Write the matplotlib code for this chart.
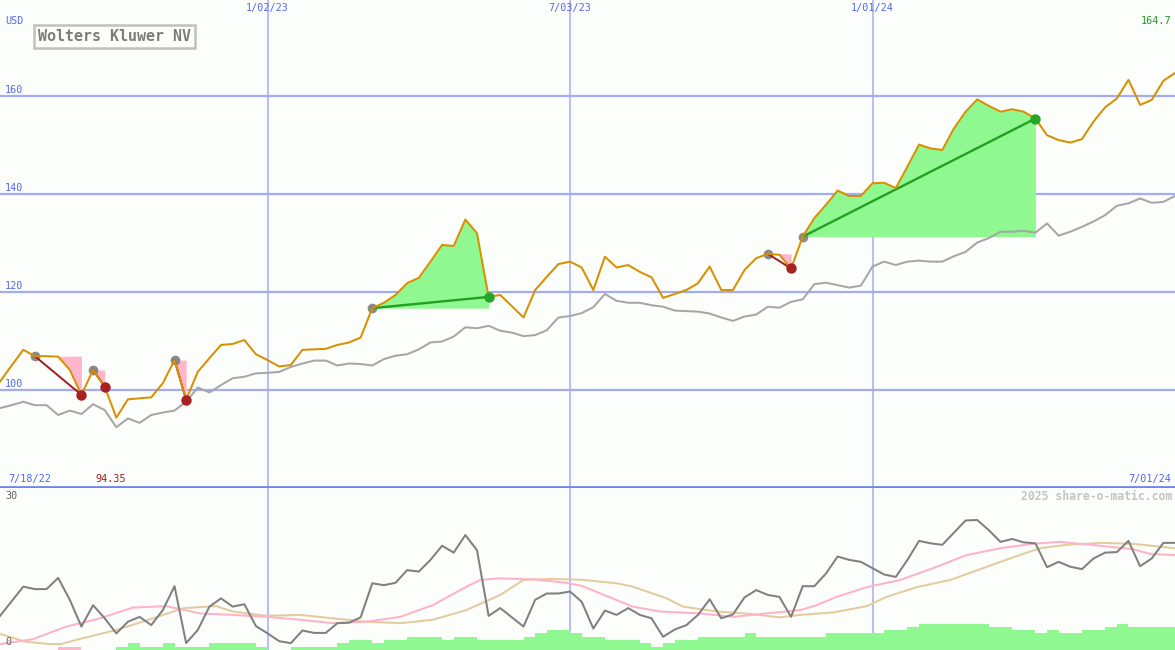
import matplotlib
matplotlib.use('Agg')
import matplotlib.pyplot as plt
import numpy as np
from matplotlib.transforms import blended_transform_factory as btf

# ---------------- data (weekly, index 0 = left edge) ----------------
price = [101.7, 105.0, 108.2, 106.9, 106.9, 106.8, 104.1, 99.0, 104.1, 100.7,
         94.35, 98.1, 98.3, 98.5, 101.4, 106.1, 98.0, 103.7, 106.5, 109.2,
         109.4, 110.2, 107.3, 106.1, 104.8, 105.1, 108.2, 108.3, 108.4, 109.2,
         109.7, 110.7, 116.7, 117.8, 119.4, 121.8, 122.9, 126.2, 129.6, 129.4,
         134.8, 132.0, 119.0, 119.4, 117.1, 114.8, 120.4, 123.1, 125.7, 126.2,
         125.0, 120.4, 127.2, 125.0, 125.5, 124.1, 123.0, 118.8, 119.6, 120.4,
         121.8, 125.2, 120.4, 120.4, 124.5, 126.9, 127.8, 127.6, 124.8, 131.3,
         135.1, 137.8, 140.7, 139.6, 139.6, 142.2, 142.3, 141.2, 145.6, 150.1,
         149.3, 149.0, 153.4, 156.8, 159.3, 158.0, 156.8, 157.3, 156.8, 155.4,
         152.0, 151.0, 150.5, 151.2, 154.8, 157.7, 159.5, 163.3, 158.2, 159.2,
         163.1, 164.7]

bench = [96.3, 96.9, 97.6, 96.9, 96.9, 94.9, 95.8, 95.1, 97.1, 95.9,
         92.4, 94.2, 93.3, 94.9, 95.4, 95.8, 97.6, 100.5, 99.5, 101.0,
         102.4, 102.7, 103.4, 103.5, 103.7, 104.7, 105.4, 106.0, 106.0, 105.0,
         105.4, 105.3, 105.0, 106.3, 107.0, 107.3, 108.3, 109.7, 109.9, 110.9,
         112.8, 112.6, 113.1, 112.1, 111.7, 111.0, 111.2, 112.2, 114.8, 115.1,
         115.7, 116.9, 119.6, 118.2, 117.8, 117.8, 117.3, 117.0, 116.2, 116.1,
         116.0, 115.6, 114.8, 114.1, 115.0, 115.4, 117.0, 116.8, 118.0, 118.5,
         121.6, 121.9, 121.4, 120.9, 121.3, 125.2, 126.2, 125.5, 126.2, 126.4,
         126.2, 126.2, 127.3, 128.2, 130.1, 131.0, 132.3, 132.3, 132.5, 132.1,
         134.0, 131.5, 132.3, 133.3, 134.4, 135.7, 137.6, 138.1, 139.1, 138.2,
         138.4, 139.6]

osc = [6.6, 9.6, 12.6, 12.1, 12.1, 14.4, 9.9, 4.4, 8.8, 6.1,
       3.0, 5.4, 6.4, 4.7, 7.8, 12.7, 1.0, 3.7, 8.5, 10.2,
       8.5, 9.0, 4.5, 3.0, 1.4, 1.0, 3.6, 3.1, 3.1, 5.1,
       5.2, 6.3, 13.3, 12.9, 13.4, 16.0, 15.7, 18.1, 21.0, 19.6,
       23.2, 20.1, 6.6, 8.2, 6.3, 4.4, 9.9, 11.2, 11.2, 11.6,
       9.5, 4.0, 7.7, 6.8, 8.2, 6.8, 6.1, 2.3, 3.8, 4.7,
       6.8, 10.0, 6.1, 6.9, 10.4, 11.9, 10.9, 10.5, 6.4, 12.7,
       12.7, 15.3, 18.8, 18.1, 17.7, 16.4, 15.1, 14.6, 18.1, 22.0,
       21.5, 21.2, 23.7, 26.2, 26.3, 24.2, 21.8, 22.4, 21.7, 21.5,
       16.6, 17.7, 16.7, 16.2, 18.4, 19.6, 19.7, 22.0, 16.8, 18.4,
       21.6, 21.6]

pink_wk = [0, 2.8, 5.7, 8.6, 11.4, 14.3, 17.2, 20.0, 22.9, 25.8, 28.6, 31.5,
           34.4, 37.2, 40.1, 41.3, 43.0, 45.8, 48.7, 50.1, 51.6, 54.4, 56.7,
           60.2, 63.0, 65.9, 68.8, 70.2, 71.9, 74.5, 77.4, 80.2, 83.1, 86.0,
           88.8, 91.1, 94.6, 97.4, 98.9, 101]
pink_v = [0.8, 1.8, 4.4, 6.1, 8.3, 8.6, 7.1, 6.8, 6.4, 5.8, 5.1, 5.4,
          6.4, 8.8, 12.6, 14.0, 14.3, 14.1, 13.4, 12.7, 11.2, 8.5, 7.5,
          7.1, 6.4, 7.1, 7.8, 8.8, 10.5, 12.5, 14.0, 16.4, 19.1, 20.5,
          21.4, 21.8, 21.0, 20.3, 19.3, 19.1]

tan_wk = [0, 2.15, 4.3, 5.2, 7.1, 10.0, 12.9, 15.8, 18.6, 20.0, 22.9, 25.8,
          28.6, 31.5, 34.4, 37.2, 40.1, 43.0, 45.0, 47.3, 50.1, 53.0, 54.4,
          57.3, 58.7, 61.6, 64.5, 67.0, 68.8, 71.6, 74.5, 76.2, 78.8, 81.7,
          84.5, 87.4, 89.4, 91.7, 94.6, 97.4, 101]
tan_v = [2.9, 1.3, 0.8, 0.8, 2.0, 3.7, 5.9, 8.2, 8.6, 7.5, 6.6, 6.8,
         6.1, 5.4, 5.1, 5.8, 7.8, 10.9, 14.0, 14.2, 14.0, 13.3, 12.6,
         10.2, 8.5, 7.5, 7.0, 6.3, 6.8, 7.3, 8.6, 10.5, 12.5, 14.0,
         16.4, 18.9, 20.5, 21.2, 21.6, 21.4, 20.5]

# bar levels per week (negative = pink)
bar_lvl = [0, 0, 0, 0, 0, -1, -1, 0, 0, 0,
           1, 2, 1, 1, 2, 1, 1, 1, 2, 2,
           2, 2, 1, 0, 0, 1, 1, 1, 1, 2,
           3, 3, 2, 3, 3, 4, 4, 4, 3, 4,
           4, 3, 3, 3, 3, 4, 5, 6, 6, 5,
           4, 4, 3, 3, 3, 2, 1, 2, 3, 3,
           4, 4, 4, 4, 5, 4, 4, 4, 4, 4,
           4, 5, 5, 5, 5, 5, 6, 6, 7, 8,
           8, 8, 8, 8, 8, 7, 7, 6, 6, 5,
           6, 5, 5, 6, 6, 7, 8, 7, 7, 7,
           7]
bar_unit = 0.68

trades = [(3, 7), (8, 9), (15, 16), (32, 42), (66, 68), (69, 89)]

vline_idx = [23, 49, 75]
vline_lbl = ['1/02/23', '7/03/23', '1/01/24']
price_ticks = [100, 120, 140, 160]
start_lbl, end_lbl = '7/18/22', '7/01/24'
title = 'Wolters Kluwer NV'

# ---------------- figure ----------------
W, H = 1175, 650
bg = '#fbfefb'
grid_c = '#a3acf2'
blue_txt = '#5566ee'
mono = 'DejaVu Sans Mono'
lw = 1.45

fig = plt.figure(figsize=(W / 100, H / 100), dpi=100)
fig.patch.set_facecolor(bg)
ax = fig.add_axes([0, 163 / H, 1, 487 / H])
ax2 = fig.add_axes([0, 0, 1, 162 / H])
for a in (ax, ax2):
    a.set_facecolor(bg)
    a.set_xlim(0, 101)
    for s in a.spines.values():
        s.set_visible(False)
    a.set_xticks([])
    a.set_yticks([])
    for v in vline_idx:
        a.axvline(v, color=grid_c, lw=1.1, zorder=0)
ax.set_ylim(80.2, 179.6)
ax2.set_ylim(-0.41, 32.87)
ax.spines['bottom'].set_visible(True)
ax.spines['bottom'].set_color('#7484ea')
ax.spines['bottom'].set_linewidth(2.0)

for v in price_ticks:
    ax.axhline(v, color=grid_c, lw=1.6, zorder=0)

x = np.arange(len(price))
p = np.array(price)

# trades
for e, s in trades:
    xs = x[e:s + 1]
    seg = p[e:s + 1]
    ep = p[e]
    win = p[s] > ep
    ax.fill_between(xs, seg, ep, color='#90f890' if win else '#ffb6cc',
                    lw=0, zorder=1)
    ax.plot([e, s], [p[e], p[s]], color='#22a022' if win else '#a01c1c',
            lw=1.7 if win else 1.4, zorder=3)
    ax.plot(e, p[e], 'o', ms=7, color='#8a8a8a', mec='none', zorder=2.5)
    ax.plot(s, p[s], 'o', ms=7.5, color='#26a626' if win else '#a82020',
            mec='none', zorder=5)

ax.plot(x, bench, color='#a6a6a6', lw=lw, zorder=2)
ax.plot(x, price, color='#d99000', lw=lw, zorder=4)

# lower panel
bx = np.arange(len(bar_lvl))
bh = np.abs(np.array(bar_lvl)) * bar_unit
bc = ['#90f890' if k >= 0 else '#ffb6cc' for k in bar_lvl]
ax2.bar(bx, bh, bottom=-0.41, width=1.0, align='edge', color=bc, lw=0, zorder=1)
ax2.plot(tan_wk, tan_v, color='#e4cb9f', lw=lw, zorder=2)
ax2.plot(pink_wk, pink_v, color='#ffb2c8', lw=lw, zorder=3)
ax2.plot(np.arange(len(osc)), osc, color='#808080', lw=lw, zorder=4)

# ---------------- texts ----------------
def px(xp, yp):
    return xp / W, 1 - yp / H

fs = 7.3
trx = btf(ax.transData, ax.transAxes)
for v, l in zip(vline_idx, vline_lbl):
    ax.text(v, 1 - 8 / 487, l, transform=trx, ha='center', va='center',
            color=blue_txt, fontsize=fs, family=mono)
try_ = btf(ax.transAxes, ax.transData)
for v in price_ticks:
    ax.text(5 / W, v + 6 / 4.9, str(v), transform=try_, ha='left', va='center',
            color=blue_txt, fontsize=fs, family=mono)

fig.text(*px(5, 21), 'USD', ha='left', va='center', color=blue_txt,
         fontsize=fs, family=mono)
fig.text(*px(1171, 21), f'{price[-1]:.1f}', ha='right', va='center',
         color='#229922', fontsize=fs, family=mono)
fig.text(*px(8, 479), start_lbl, ha='left', va='center', color=blue_txt,
         fontsize=fs, family=mono)
fig.text(*px(95, 479), f'{min(price):.2f}', ha='left', va='center',
         color='#a01c1c', fontsize=fs, family=mono)
fig.text(*px(1171, 479), end_lbl, ha='right', va='center', color=blue_txt,
         fontsize=fs, family=mono)
fig.text(*px(5, 496), '30', ha='left', va='center', color='#606060',
         fontsize=fs, family=mono)
fig.text(*px(5, 642), '0', ha='left', va='center', color='#606060',
         fontsize=fs, family=mono)
fig.text(*px(1172, 496), '2025 share-o-matic.com', ha='right', va='center',
         color='#c4c4c4', fontsize=8.3, family=mono, fontweight='bold')
fig.text(*px(38, 36.5), title, ha='left', va='center', color='#7c7c7c',
         fontsize=10.8, family=mono, fontweight='bold',
         bbox=dict(boxstyle='square,pad=0.28', fc=bg, ec='#c0c0c0', lw=1.8))

fig.savefig('out.png', dpi=100, facecolor=bg)
